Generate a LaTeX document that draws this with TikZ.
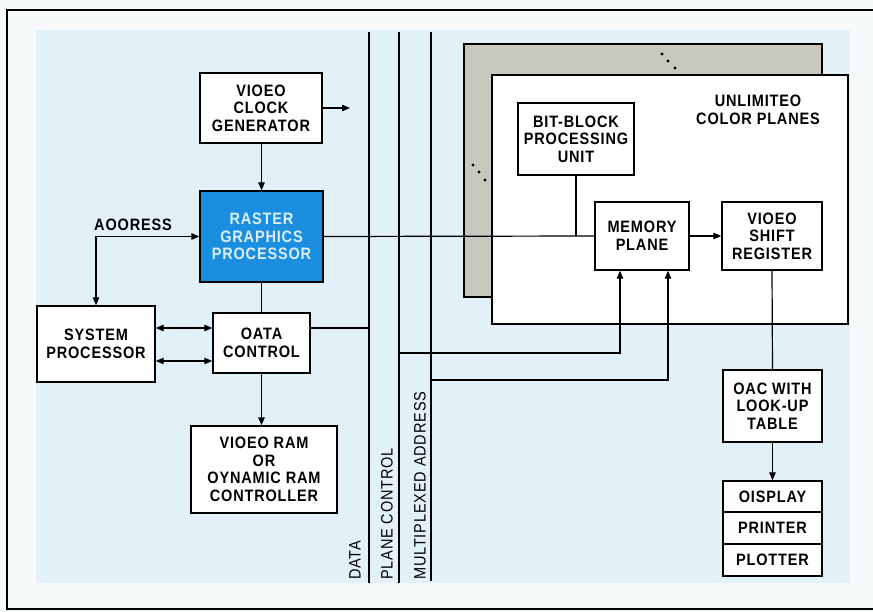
\documentclass[tikz,border=0pt]{standalone}
\usepackage{fontspec}
\setmainfont{Liberation Sans}
\newfontfamily\condfont[FakeStretch=0.88,LetterSpace=5]{Liberation Sans}
\usetikzlibrary{arrows.meta}
\definecolor{bgblue}{HTML}{E2F1F8}
\definecolor{paper}{HTML}{F6FAFA}
\definecolor{rgpblue}{HTML}{1C8EE0}
\definecolor{rgptext}{HTML}{DCEEFA}
\definecolor{planegray}{HTML}{C8C8BE}
\tikzset{
  box/.style={draw, line width=1.4pt, fill=white, inner sep=0pt, align=center,
    font=\condfont\bfseries\fontsize{16.5}{17.6}\selectfont},
  conn/.style={line width=1.2pt},
  arr/.style={line width=1.2pt, -{Triangle[length=8pt,width=6.5pt]}},
  dbl/.style={line width=1.2pt, {Triangle[length=8pt,width=6.5pt]}-{Triangle[length=8pt,width=6.5pt]}},
  bus/.style={line width=1.1pt},
  buslabel/.style={rotate=90, anchor=west, inner sep=0pt, font=\condfont\fontsize{16.5}{17}\selectfont},
  plane/.style={draw, line width=1.4pt},
  dot/.style={fill=black, circle, inner sep=0pt, minimum size=3.2pt},
  plain/.style={font=\condfont\bfseries\fontsize{16.5}{17.6}\selectfont, align=center, inner sep=0pt}
}
\begin{document}
\begin{tikzpicture}[x=1pt,y=-1pt]
\useasboundingbox (0,0) rectangle (873,612);
\fill[paper] (0,0) rectangle (873,612);
\fill[bgblue] (36,30) rectangle (850,583);
% frame
\draw[line width=2pt] (873,10) -- (7,10) -- (7,609) -- (873,609);

% bus lines
\coordinate (dT) at (369,32); \coordinate (dB) at (369,583);
\coordinate (pT) at (399,32); \coordinate (pB) at (399,583);
\coordinate (mT) at (431,32); \coordinate (mB) at (431,581);
\draw[bus] (dT) -- (dB);
\draw[bus] (pT) -- (pB);
\draw[bus] (mT) -- (mB);
\node[buslabel] (ldata) at (355,580) {DATA};
\node[buslabel] (lplane) at (387,580) {PLANE CONTROL};
\node[buslabel] (lmux) at (420,580) {MULTIPLEXED ADDRESS};

% color planes
\draw[plane, fill=planegray] (464,44) rectangle (822,297);
\draw[plane, fill=white] (492,75) rectangle (848,324);
\node[dot] (d1) at (662,54) {};
\node[dot] (d2) at (668,61) {};
\node[dot] (d3) at (675,68) {};
\node[dot] (d4) at (473,165) {};
\node[dot] (d5) at (479,172) {};
\node[dot] (d6) at (485,180) {};
\node[plain] (ucp) at (758,110) {UNLIMITEO\\COLOR PLANES};

% boxes
\node[box, minimum width=122pt, minimum height=70pt] (vcg) at (261,108) {VIOEO\\CLOCK\\GENERATOR};
\node[box, fill=rgpblue, text=rgptext, minimum width=123pt, minimum height=91pt] (rgp) at (261.5,236.5) {RASTER\\GRAPHICS\\PROCESSOR};
\node[box, minimum width=118pt, minimum height=76pt] (sys) at (96,344) {SYSTEM\\PROCESSOR};
\node[box, minimum width=97pt, minimum height=60pt] (dc) at (261.5,343) {OATA\\CONTROL};
\node[box, minimum width=146pt, minimum height=87pt] (vram) at (264,469.5) {VIOEO RAM\\OR\\OYNAMIC RAM\\CONTROLLER};
\node[box, minimum width=116pt, minimum height=72pt] (bbu) at (576,139) {BIT-BLOCK\\PROCESSING\\UNIT};
\node[box, minimum width=94pt, minimum height=68pt] (mem) at (642,236) {MEMORY\\PLANE};
\node[box, minimum width=100pt, minimum height=68pt] (vsr) at (772,236) {VIOEO\\SHIFT\\REGISTER};
\node[box, minimum width=99pt, minimum height=72pt] (dac) at (772.5,406) {OAC WITH\\LOOK-UP\\TABLE};
\node[box, minimum width=99pt, minimum height=31pt] (disp) at (772.5,496.5) {OISPLAY};
\node[box, minimum width=99pt, minimum height=32pt] (prn) at (772.5,528) {PRINTER};
\node[box, minimum width=99pt, minimum height=32pt] (plt) at (772.5,560) {PLOTTER};

% address label
\node[plain] (addr) at (133,225) {AOORESS};

% coordinates
\coordinate (vout) at (350,108);
\coordinate (addrc) at (96,236.5);
\coordinate (y1) at (0,328);
\coordinate (y2) at (0,361);
\coordinate (ma) at (620,353);
\coordinate (mb) at (668,380);

% connectors
\draw[arr] (vcg.south -| rgp.north) -- (rgp.north);
\draw[arr] (vcg.east) -- (vout);
\draw[arr] (addrc) -- (rgp.west);
\draw[arr] (addrc) -- (sys.north);
\draw[conn] (rgp.south) -- (dc.north);
\draw[arr] (dc.south) -- (dc.south |- vram.north);
\draw[dbl] (sys.east |- y1) -- (dc.west |- y1);
\draw[dbl] (sys.east |- y2) -- (dc.west |- y2);
\draw[conn] (dc.east |- y1) -- (dT |- y1);
\draw[conn] (rgp.east) -- (mem.west);
\draw[conn] (bbu.south) -- (bbu.south |- mem.west);
\draw[arr] (mem.east) -- (vsr.west);
\draw[conn] (vsr.south) -- (dac.north);
\draw[arr] (dac.south) -- (disp.north);
\draw[arr] (pT |- ma) -- (ma) -- (ma |- mem.south);
\draw[arr] (mT |- mb) -- (mb) -- (mb |- mem.south);
\end{tikzpicture}
\end{document}
